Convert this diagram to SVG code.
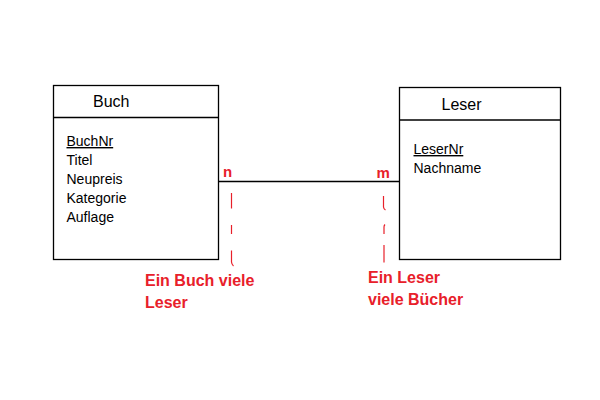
<svg xmlns="http://www.w3.org/2000/svg" width="600" height="400" viewBox="0 0 600 400">
<style>
.box{fill:#fff;stroke:#000;stroke-width:1.3}
.div{stroke:#000;stroke-width:1.3}
.title{font-family:"Liberation Sans",Arial,sans-serif;font-size:16px;fill:#000}
.attr{font-family:"Liberation Sans",Arial,sans-serif;font-size:14px;fill:#000}
.key{text-decoration:underline}
.red{font-family:"Liberation Sans",Arial,sans-serif;font-size:16px;font-weight:bold;fill:#e8202a}
.card{font-size:15px}
.dash{fill:none;stroke:#e8202a;stroke-width:1.2}
.conn{stroke:#000;stroke-width:1.3;fill:none}
</style>
<rect width="600" height="400" fill="#fff"/>
<g id="buch">
<rect class="box" x="53.5" y="85.5" width="165" height="174"/>
<line class="div" x1="53.5" y1="117.5" x2="218.5" y2="117.5"/>
<text class="title" x="93" y="107">Buch</text>
<text class="attr key" x="66.5" y="146">BuchNr</text>
<text class="attr" x="66.5" y="165">Titel</text>
<text class="attr" x="66.5" y="184">Neupreis</text>
<text class="attr" x="66.5" y="203">Kategorie</text>
<text class="attr" x="66.5" y="222">Auflage</text>
</g>
<g id="leser">
<rect class="box" x="399.5" y="87.5" width="161" height="172"/>
<line class="div" x1="399.5" y1="120" x2="560.5" y2="120"/>
<text class="title" x="441.5" y="110">Leser</text>
<text class="attr key" x="413.5" y="154">LeserNr</text>
<text class="attr" x="413.5" y="173">Nachname</text>
</g>
<g id="connectors">
<line class="conn" x1="218.5" y1="181.5" x2="399.5" y2="181.5"/>
<text class="red card" x="223" y="177">n</text>
<text class="red card" x="376.5" y="178">m</text>
<path class="dash" d="M231.5,193 V208.5"/>
<path class="dash" d="M231.5,225 V234"/>
<path class="dash" d="M231.5,250.5 V262 Q231.7,264.5 233.5,266"/>
<path class="dash" d="M383.5,196 V207 Q383.7,209 385.5,210"/>
<path class="dash" d="M385,224.5 Q384,225.5 384,227 V234"/>
<path class="dash" d="M384,245 V262.5"/>
</g>
<g id="labels">
<text class="red" x="145" y="286">Ein Buch viele</text>
<text class="red" x="145" y="308">Leser</text>
<text class="red" x="368" y="283">Ein Leser</text>
<text class="red" x="368" y="305">viele Bücher</text>
</g>
</svg>
